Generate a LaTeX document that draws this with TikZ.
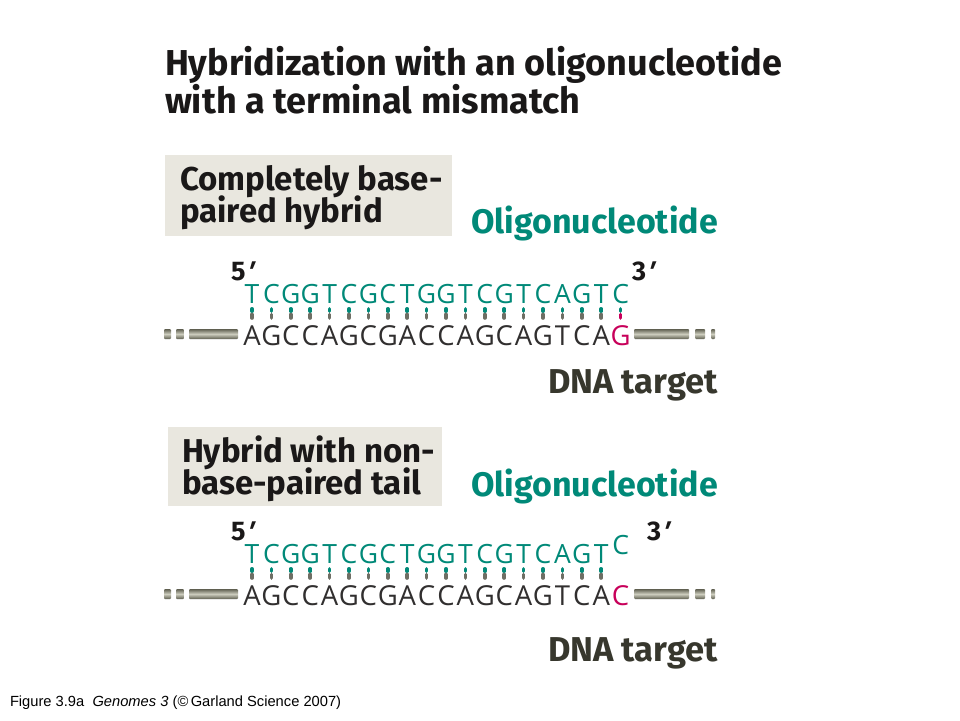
\documentclass[tikz,border=0pt]{standalone}
\usepackage{fontspec}
\setmainfont{Fira Sans}
\newfontfamily\arialfam{Liberation Sans}
\newfontfamily\strandfam{Open Sans}
\newfontfamily\primefam{Fira Sans}[FakeSlant=0.35]
\usetikzlibrary{calc}
\definecolor{tealc}{RGB}{0,137,120}
\definecolor{inkc}{RGB}{26,24,24}
\definecolor{grayhead}{RGB}{55,55,45}
\definecolor{magc}{RGB}{200,0,90}
\definecolor{boxc}{RGB}{233,231,223}
\definecolor{bardark}{RGB}{95,95,80}
\definecolor{barlight}{RGB}{205,205,190}
\definecolor{tickg}{RGB}{110,110,100}
\newcommand{\prm}{{\kern-1.2pt\primefam\bfseries\char"27}}
\tikzset{
  txt/.style={inner sep=0pt, outer sep=0pt, anchor=base west},
  titletxt/.style={txt, text=inkc, font=\fontsize{36}{40}\selectfont\bfseries},
  boxtxt/.style={txt, text=inkc, font=\fontsize{33}{36}\selectfont\bfseries},
  headteal/.style={inner sep=0pt, anchor=base east, text=tealc, font=\fontsize{34}{36}\selectfont\bfseries},
  headgray/.style={inner sep=0pt, anchor=base east, text=grayhead, font=\fontsize{34.5}{36}\selectfont\bfseries},
  primelbl/.style={txt, text=inkc, font=\fontsize{27}{29}\selectfont\bfseries},
  strandtop/.style={inner sep=0pt, anchor=base, text=tealc, font=\strandfam\fontsize{26.5}{29}\selectfont},
  strandbot/.style={inner sep=0pt, anchor=base, text=inkc!90, font=\strandfam\fontsize{27.5}{30}\selectfont},
  boxbg/.style={fill=boxc, draw=none, inner sep=0pt, anchor=north west},
  barshade/.style={top color=bardark, bottom color=bardark, middle color=barlight, rounded corners=1pt},
  tickteal/.style={draw=tealc, line width=3.6pt, line cap=round},
  tickgray/.style={draw=tickg, line width=3.6pt, line cap=round},
  tickmag/.style={draw=magc, line width=3.6pt, line cap=round},
}
\begin{document}
\begin{tikzpicture}[x=1pt,y=-1pt]
\useasboundingbox (0,0) rectangle (960,720);
\fill[white] (0,0) rectangle (960,720);

% title
\node[titletxt] (title1) at (165,75) {Hybridization with an oligonucleotide};
\node[titletxt] (title2) at (165,113) {with a terminal mismatch};

% ===== panel 1 =====
\node[boxbg, minimum width=287pt, minimum height=81pt] (box1) at (165,155) {};
\node[boxtxt] (box1a) at (180,190) {Completely base-};
\node[boxtxt] (box1b) at (180,222) {paired hybrid};
\node[headteal] (oligo1) at (718,233) {Oligonucleotide};
\node[primelbl] (fiveA) at (231,280) {5\prm};
\node[primelbl] (threeA) at (632,280) {3\prm};

\foreach \l [count=\i from 0] in {T,C,G,G,T,C,G,C,T,G,G,T,C,G,T,C,A,G,T,C}
  \node[strandtop] (ta\i) at ({252+19.4*\i},303) {\l};
\foreach \l [count=\i from 0] in {A,G,C,C,A,G,C,G,A,C,C,A,G,C,A,G,T,C,A}
  \node[strandbot] (ba\i) at ({252+19.4*\i},345) {\l};
\node[strandbot, text=magc] (ba19) at ({252+19.4*19},345) {G};

\foreach \i in {0,...,18}{
  \draw[tickteal] ({252+19.4*\i},308.8) -- ({252+19.4*\i},311.2);
  \draw[tickgray] ({252+19.4*\i},314.5) -- ({252+19.4*\i},318);
}
\draw[tickteal] ({252+19.4*19},308.8) -- ({252+19.4*19},311.2);
\draw[tickmag] ({252+19.4*19},314.5) -- ({252+19.4*19},318);

\shade[barshade] (164,329) rectangle (171,339);
\shade[barshade] (176,329) rectangle (184,339);
\shade[barshade] (189,329) rectangle (238,339);
\shade[barshade] (634,329) rectangle (689,339);
\shade[barshade] (695,329) rectangle (705,339);
\shade[barshade] (711,329) rectangle (715,339);

\node[headgray] (dna1) at (718,393) {DNA target};

% ===== panel 2 =====
\node[boxbg, minimum width=274pt, minimum height=79pt] (box2) at (168,427) {};
\node[boxtxt] (box2a) at (182,462) {Hybrid with non-};
\node[boxtxt] (box2b) at (182,494) {base-paired tail};
\node[headteal] (oligo2) at (718,496) {Oligonucleotide};
\node[primelbl] (fiveB) at (231,540) {5\prm};
\node[primelbl] (threeB) at (647,540) {3\prm};

\foreach \l [count=\i from 0] in {T,C,G,G,T,C,G,C,T,G,G,T,C,G,T,C,A,G,T}
  \node[strandtop] (tb\i) at ({252+19.4*\i},563) {\l};
\node[strandtop] (tb19) at ({252+19.4*19},554) {C};
\foreach \l [count=\i from 0] in {A,G,C,C,A,G,C,G,A,C,C,A,G,C,A,G,T,C,A}
  \node[strandbot] (bb\i) at ({252+19.4*\i},605) {\l};
\node[strandbot, text=magc] (bb19) at ({252+19.4*19},605) {C};

\foreach \i in {0,...,18}{
  \draw[tickteal] ({252+19.4*\i},568.8) -- ({252+19.4*\i},571.2);
  \draw[tickgray] ({252+19.4*\i},574.5) -- ({252+19.4*\i},578);
}

\shade[barshade] (164,589) rectangle (171,599);
\shade[barshade] (176,589) rectangle (184,599);
\shade[barshade] (189,589) rectangle (238,599);
\shade[barshade] (634,589) rectangle (689,599);
\shade[barshade] (695,589) rectangle (705,599);
\shade[barshade] (711,589) rectangle (715,599);

\node[headgray] (dna2) at (718,661) {DNA target};

% footer
\node[txt, font=\arialfam\fontsize{14.7}{16}\selectfont, text=black] (foot) at (10,706)
  {Figure 3.9a\ \ \textit{Genomes 3} (\textcopyright\,Garland Science 2007)};
\end{tikzpicture}
\end{document}
